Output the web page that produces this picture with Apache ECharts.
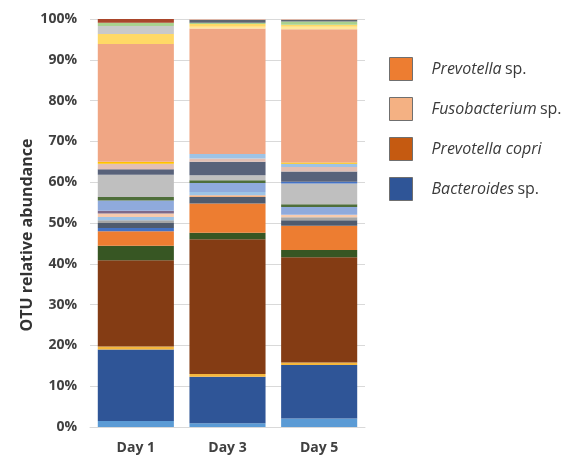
<!DOCTYPE html>
<html>
<head>
<meta charset="utf-8">
<script src="https://cdn.jsdelivr.net/npm/echarts@6/dist/echarts.min.js"></script>
<style>
  html, body { margin: 0; padding: 0; background: #ffffff; }
  #chart { width: 574px; height: 458px; }
</style>
</head>
<body>
<div id="chart"></div>
<script>
// Sampling days on the x axis
const days = ['Day 1', 'Day 3', 'Day 5'];

// Y axis tick values (percent)
const yTicks = [0, 10, 20, 30, 40, 50, 60, 70, 80, 90, 100];

// OTU relative abundance (%) per day, stacked bottom to top
const otu01 = [1.5, 0.9, 2.1];
const bacteroides = [17.5, 11.4, 13.1];
const otu03 = [0.7, 0.7, 0.6];
const prevotellaCopri = [21.2, 33.0, 25.8];
const otu05 = [3.5, 1.6, 1.8];
const prevotellaSp = [3.6, 7.2, 5.9];
const otu07 = [0.8, 0.0, 0.0];
const otu08 = [1.2, 1.6, 1.4];
const otu09 = [0.0, 0.4, 0.0];
const otu10 = [0.7, 0.0, 0.7];
const otu11 = [0.8, 0.8, 0.0];
const otu12 = [0.8, 0.0, 0.6];
const otu13 = [0.7, 0.0, 0.0];
const otu14 = [2.5, 2.2, 1.9];
const otu15 = [0.9, 0.7, 0.7];
const otu16 = [5.4, 1.2, 5.1];
const otu17 = [0.0, 0.0, 0.4];
const otu18 = [1.4, 3.3, 2.5];
const otu19 = [1.3, 0.8, 1.1];
const otu20 = [0.0, 1.1, 0.8];
const otu21 = [0.5, 0.0, 0.3];
const fusobacterium = [28.9, 30.8, 32.7];
const otu23 = [0.0, 0.4, 0.6];
const otu24 = [2.4, 0.7, 0.5];
const otu25 = [2.0, 0.0, 0.0];
const otu26 = [0.8, 0.3, 0.8];
const otu27 = [0.0, 0.7, 0.4];
const otu28 = [0.9, 0.0, 0.0];
const otu29 = [0.0, 0.2, 0.2];

// Stack order with fill colours
const layers = [
  ['OTU-01', otu01, '#5B9BD5'],
  ['Bacteroides sp.', bacteroides, '#2F5597'],
  ['OTU-03', otu03, '#F5B63C'],
  ['Prevotella copri', prevotellaCopri, '#843C14'],
  ['OTU-05', otu05, '#375623'],
  ['Prevotella sp.', prevotellaSp, '#ED7D31'],
  ['OTU-07', otu07, '#4472C4'],
  ['OTU-08', otu08, '#4F5B6E'],
  ['OTU-09', otu09, '#F4B183'],
  ['OTU-10', otu10, '#A5A5A5'],
  ['OTU-11', otu11, '#9DC3E6'],
  ['OTU-12', otu12, '#F8CBAD'],
  ['OTU-13', otu13, '#7F6A8A'],
  ['OTU-14', otu14, '#8FAADC'],
  ['OTU-15', otu15, '#4E6E3A'],
  ['OTU-16', otu16, '#BFBFBF'],
  ['OTU-17', otu17, '#4472C4'],
  ['OTU-18', otu18, '#58627A'],
  ['OTU-19', otu19, '#E2BFB4'],
  ['OTU-20', otu20, '#9DC3E6'],
  ['OTU-21', otu21, '#FFC000'],
  ['Fusobacterium sp.', fusobacterium, '#F0A684'],
  ['OTU-23', otu23, '#FFE699'],
  ['OTU-24', otu24, '#FFD966'],
  ['OTU-25', otu25, '#C9C9C9'],
  ['OTU-26', otu26, '#A9D18E'],
  ['OTU-27', otu27, '#5E6670'],
  ['OTU-28', otu28, '#A9452A'],
  ['OTU-29', otu29, '#E8B4A0']
];

// Legend entries and their swatch colours
const legendNames = ['Prevotella sp.', 'Fusobacterium sp.', 'Prevotella copri', 'Bacteroides sp.'];
const legendColors = ['#ED7D31', '#F4B183', '#C55A11', '#2F5597'];

const chart = echarts.init(document.getElementById('chart'), null, { renderer: 'canvas' });

const series = layers.map(([name, values, color]) => ({
  name: name,
  type: 'bar',
  stack: 'abundance',
  barWidth: '83%',
  data: values,
  itemStyle: { color: color },
  emphasis: { disabled: true }
}));

const labelFont = 'Open Sans';

chart.setOption({
  animation: false,
  backgroundColor: '#ffffff',
  grid: { left: 90, right: 209, top: 19, bottom: 31 },
  legend: {
    orient: 'vertical',
    left: 384,
    top: 52,
    itemWidth: 23,
    itemHeight: 23,
    itemGap: 16,
    icon: 'rect',
    selectedMode: false,
    data: legendNames.map((n, i) => ({
      name: n,
      itemStyle: { color: legendColors[i], borderColor: '#6F6F6F', borderWidth: 1 }
    })),
    formatter: function (name) {
      const parts = name.split(' ');
      if (parts[1] === 'sp.') return '{i|' + parts[0] + '} {n|sp.}';
      return '{i|' + name + '}';
    },
    textStyle: {
      padding: [0, 0, 0, 14],
      rich: {
        i: { fontFamily: labelFont, fontStyle: 'italic', fontSize: 16, lineHeight: 23, color: '#3A3A3A' },
        n: { fontFamily: labelFont, fontSize: 16, lineHeight: 23, color: '#3A3A3A' }
      }
    }
  },
  xAxis: {
    type: 'category',
    data: days,
    axisLine: { lineStyle: { color: '#D9D9D9', width: 1 } },
    axisTick: { show: false },
    axisLabel: {
      margin: 14,
      fontFamily: labelFont,
      fontWeight: 'bold',
      fontSize: 14,
      color: '#404040'
    }
  },
  yAxis: {
    type: 'value',
    min: yTicks[0],
    max: yTicks[yTicks.length - 1],
    interval: yTicks[1] - yTicks[0],
    name: 'OTU relative abundance',
    nameLocation: 'middle',
    nameGap: 55,
    nameTextStyle: {
      fontFamily: labelFont,
      fontWeight: 'bold',
      fontSize: 16,
      color: '#333333',
      padding: [0, 24, 0, 0]
    },
    axisLine: { show: false },
    axisTick: { show: false },
    splitLine: { lineStyle: { color: '#D9D9D9', width: 1 } },
    axisLabel: {
      margin: 13,
      formatter: '{value}%',
      fontFamily: labelFont,
      fontWeight: 'bold',
      fontSize: 14,
      color: '#404040'
    }
  },
  series: series
});
</script>
</body>
</html>
